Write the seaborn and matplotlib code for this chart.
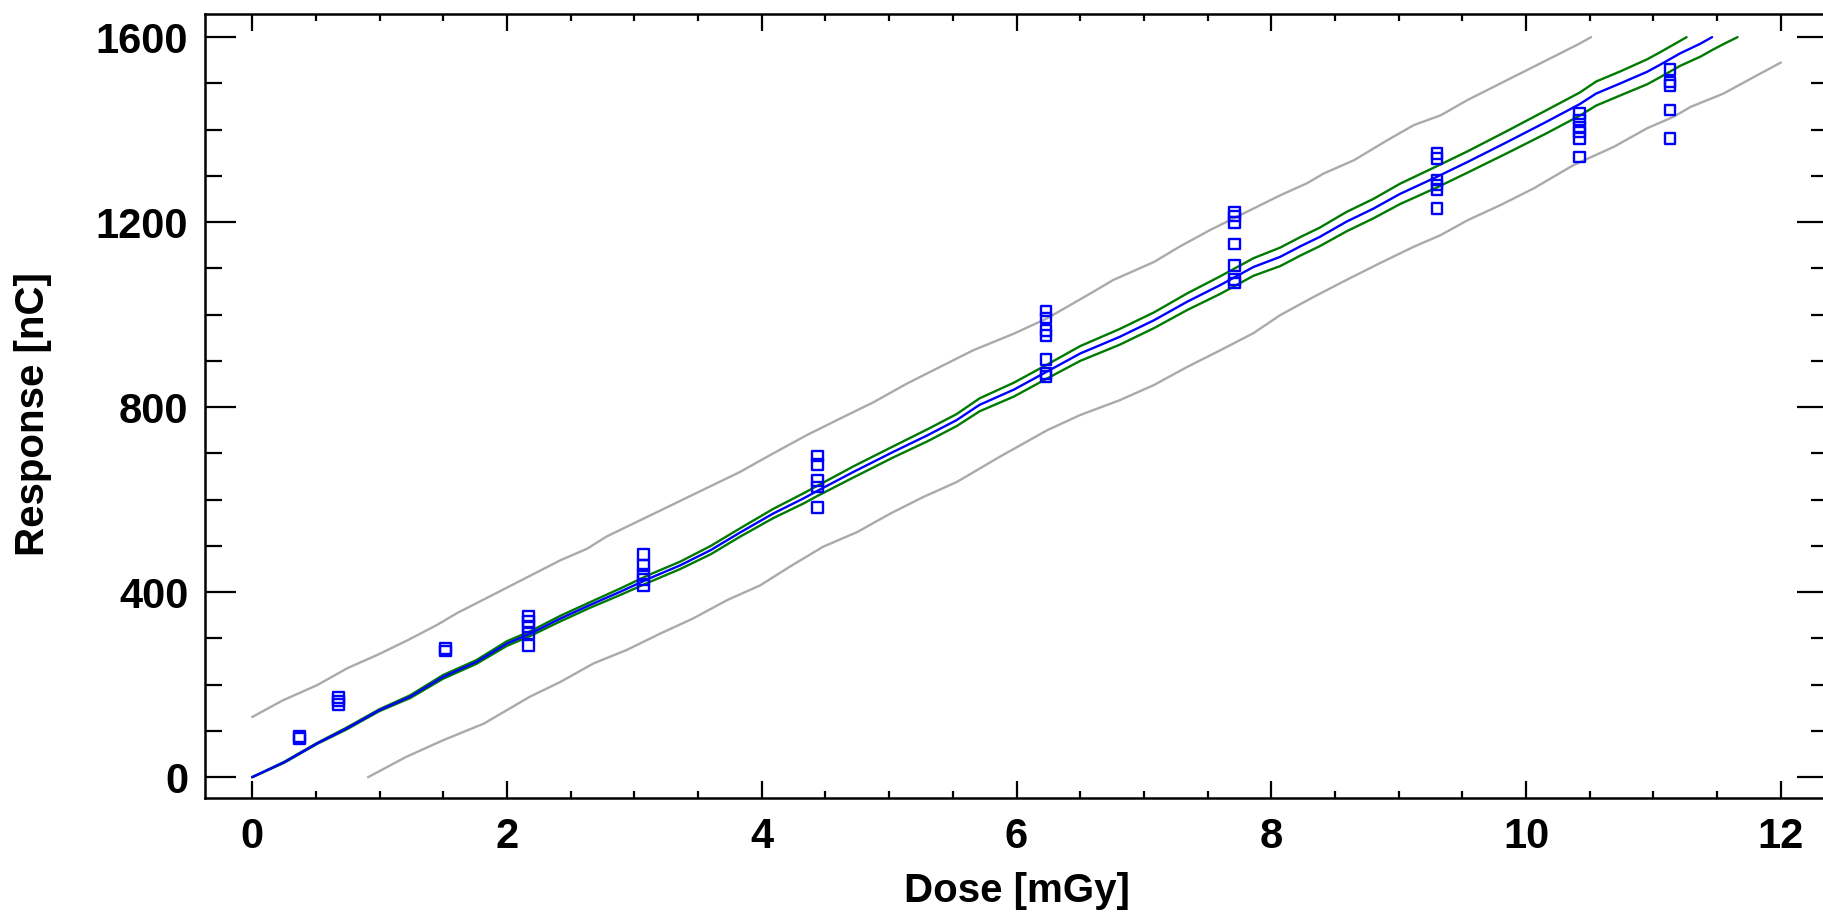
import numpy as np
import pandas as pd
import seaborn as sns
import matplotlib.pyplot as plt
from matplotlib.ticker import MultipleLocator

# measured responses per irradiation dose
dose_levels = [0.37, 0.68, 1.52, 2.17, 3.07, 4.44, 6.23, 7.71, 9.30, 10.42, 11.13]
responses = [
    [84, 88],
    [172, 165, 157],
    [273, 278],
    [348, 336, 326, 311, 285],
    [481, 458, 439, 427, 414],
    [694, 676, 641, 627, 583],
    [1008, 993, 966, 955, 903, 873, 866],
    [1222, 1213, 1199, 1153, 1106, 1076, 1068],
    [1348, 1338, 1291, 1280, 1270, 1230],
    [1435, 1421, 1406, 1395, 1381, 1341],
    [1530, 1503, 1496, 1442, 1381],
]

# calibration fit
fit_dose = [0.00, 0.25, 0.51, 0.74, 1.00, 1.24, 1.50, 1.76, 2.00, 2.18, 2.42, 2.65, 2.89,
            3.12, 3.36, 3.60, 3.83, 4.09, 4.33, 4.43, 4.72, 5.03, 5.30, 5.53, 5.71, 5.98,
            6.24, 6.50, 6.81, 7.08, 7.34, 7.60, 7.86, 8.07, 8.23, 8.38, 8.59, 8.80, 9.01,
            9.30, 9.54, 9.85, 10.16, 10.42, 10.55, 10.74, 10.95, 11.05, 11.21, 11.37, 11.46]
fit_resp = [0, 32, 73, 105, 145, 174, 217, 249, 289, 310, 343, 372, 401,
            430, 458, 491, 529, 570, 603, 618, 660, 703, 739, 772, 805, 838,
            877, 916, 952, 988, 1028, 1064, 1103, 1125, 1148, 1168, 1201, 1229, 1261,
            1298, 1330, 1373, 1417, 1455, 1478, 1500, 1525, 1540, 1565, 1586, 1600]

# confidence band (green)
conf_hi_dose = [0.00, 0.25, 0.51, 0.74, 1.00, 1.24, 1.50, 1.76, 2.00, 2.18, 2.42, 2.65, 2.89,
                3.12, 3.36, 3.60, 3.83, 4.09, 4.33, 4.43, 4.72, 5.03, 5.30, 5.53, 5.71, 5.98,
                6.24, 6.50, 6.81, 7.08, 7.34, 7.60, 7.86, 8.07, 8.23, 8.38, 8.59, 8.80, 9.01,
                9.30, 9.54, 9.85, 10.16, 10.42, 10.55, 10.74, 10.95, 11.05, 11.21, 11.26]
conf_hi_resp = [0, 33, 74, 107, 147, 177, 221, 253, 294, 315, 349, 378, 408,
                438, 466, 500, 538, 580, 614, 629, 672, 715, 752, 785, 819, 853,
                892, 932, 969, 1005, 1046, 1083, 1122, 1145, 1168, 1188, 1222, 1250, 1283,
                1321, 1353, 1397, 1442, 1480, 1504, 1526, 1552, 1567, 1592, 1600]
conf_lo_dose = [0.00, 0.25, 0.51, 0.74, 1.00, 1.24, 1.50, 1.76, 2.00, 2.18, 2.42, 2.65, 2.89,
                3.12, 3.36, 3.60, 3.83, 4.09, 4.33, 4.43, 4.72, 5.03, 5.30, 5.53, 5.71, 5.98,
                6.24, 6.50, 6.81, 7.08, 7.34, 7.60, 7.86, 8.07, 8.23, 8.38, 8.59, 8.80, 9.01,
                9.30, 9.54, 9.85, 10.16, 10.42, 10.55, 10.74, 10.95, 11.05, 11.21, 11.37, 11.46,
                11.55, 11.66]
conf_lo_resp = [0, 31, 72, 103, 143, 171, 213, 245, 284, 305, 337, 366, 394,
                422, 450, 482, 520, 560, 592, 607, 648, 691, 726, 759, 791, 823,
                862, 900, 935, 971, 1010, 1045, 1084, 1105, 1128, 1148, 1180, 1208, 1239,
                1275, 1307, 1349, 1392, 1430, 1452, 1474, 1498, 1513, 1538, 1558, 1572,
                1585, 1600]

# prediction band (grey)
pred_hi_dose = [0.00, 0.24, 0.51, 0.75, 0.98, 1.22, 1.45, 1.61, 1.81, 2.42, 2.63, 2.78, 3.05,
                3.83, 4.09, 4.35, 4.62, 4.88, 5.14, 5.40, 5.66, 5.98, 6.24, 6.60, 6.76, 7.08,
                7.28, 7.52, 8.07, 8.28, 8.41, 8.65, 8.91, 9.12, 9.33, 9.54, 10.42, 10.51]
pred_hi_resp = [130, 166, 199, 236, 264, 296, 329, 355, 383, 469, 494, 520, 556,
                660, 700, 739, 776, 811, 851, 887, 923, 959, 992, 1049, 1075, 1114,
                1147, 1183, 1258, 1284, 1305, 1334, 1377, 1410, 1431, 1464, 1586, 1600]
pred_lo_dose = [0.91, 1.21, 1.50, 1.82, 2.00, 2.18, 2.42, 2.68, 2.94, 3.20, 3.46, 3.73, 3.99,
                4.22, 4.48, 4.75, 5.01, 5.27, 5.53, 5.87, 6.24, 6.50, 6.81, 7.08, 7.34, 7.60,
                7.86, 8.07, 8.33, 8.59, 8.85, 9.12, 9.33, 9.54, 9.80, 10.06, 10.37, 10.69,
                10.95, 11.16, 11.29, 11.55, 11.79, 12.00]
pred_lo_resp = [0, 44, 80, 116, 145, 174, 206, 246, 275, 310, 343, 383, 415,
                455, 498, 530, 570, 606, 638, 693, 750, 783, 815, 848, 887, 923,
                960, 999, 1038, 1075, 1111, 1147, 1172, 1204, 1237, 1273, 1323, 1363,
                1403, 1428, 1449, 1478, 1514, 1545]

points = pd.DataFrame({
    'dose': [d for d, r in zip(dose_levels, responses) for _ in r],
    'response': [v for r in responses for v in r],
})

sns.set_style('ticks')
plt.rcParams['font.family'] = ['Liberation Sans', 'DejaVu Sans']
plt.rcParams['font.weight'] = 'bold'
plt.rcParams['text.color'] = 'black'
plt.rcParams['axes.labelcolor'] = 'black'

fig = plt.figure(figsize=(18.24, 9.17), dpi=100)
ax = fig.add_axes([205 / 1824, 1 - 798 / 917, 1623 / 1824, 784 / 917])

sns.lineplot(x=pred_hi_dose, y=pred_hi_resp, color='#aaaaaa', lw=1.7, sort=False, ax=ax)
sns.lineplot(x=pred_lo_dose, y=pred_lo_resp, color='#aaaaaa', lw=1.7, sort=False, ax=ax)
sns.lineplot(x=conf_hi_dose, y=conf_hi_resp, color='#007a00', lw=1.7, sort=False, ax=ax)
sns.lineplot(x=conf_lo_dose, y=conf_lo_resp, color='#007a00', lw=1.7, sort=False, ax=ax)
sns.lineplot(x=fit_dose, y=fit_resp, color='#0000ff', lw=1.7, sort=False, ax=ax)
sns.scatterplot(data=points, x='dose', y='response', marker='s', s=58,
                facecolor='none', edgecolor='#0000ff', linewidth=1.7, ax=ax, zorder=3)

ax.set_xlim(-0.37, 12.37)
ax.set_ylim(-45, 1650)
ax.xaxis.set_major_locator(MultipleLocator(2))
ax.xaxis.set_minor_locator(MultipleLocator(0.5))
ax.yaxis.set_major_locator(MultipleLocator(400))
ax.yaxis.set_minor_locator(MultipleLocator(100))

ax.tick_params(axis='both', which='both', direction='in', top=True, right=True,
               width=1.6, labelsize=30, colors='black')
ax.tick_params(axis='x', which='major', length=12, pad=14)
ax.tick_params(axis='x', which='minor', length=5)
ax.tick_params(axis='y', which='major', length=22, pad=12)
ax.tick_params(axis='y', which='minor', length=12)
for lab in ax.get_xticklabels() + ax.get_yticklabels():
    lab.set_fontweight('bold')
for sp in ax.spines.values():
    sp.set_linewidth(1.8)
    sp.set_color('black')

ax.set_xlabel('Dose [mGy]', fontsize=29, fontweight='bold', color='black')
ax.xaxis.set_label_coords(0.5, -0.095)
ax.set_ylabel('Response [nC]', fontsize=29, fontweight='bold', color='black',
              family=['Liberation Sans Narrow', 'Liberation Sans'])
ax.yaxis.set_label_coords(-0.106, 0.49)
ax.yaxis.label.set_va('center')

fig.savefig('out.png', dpi=100)
